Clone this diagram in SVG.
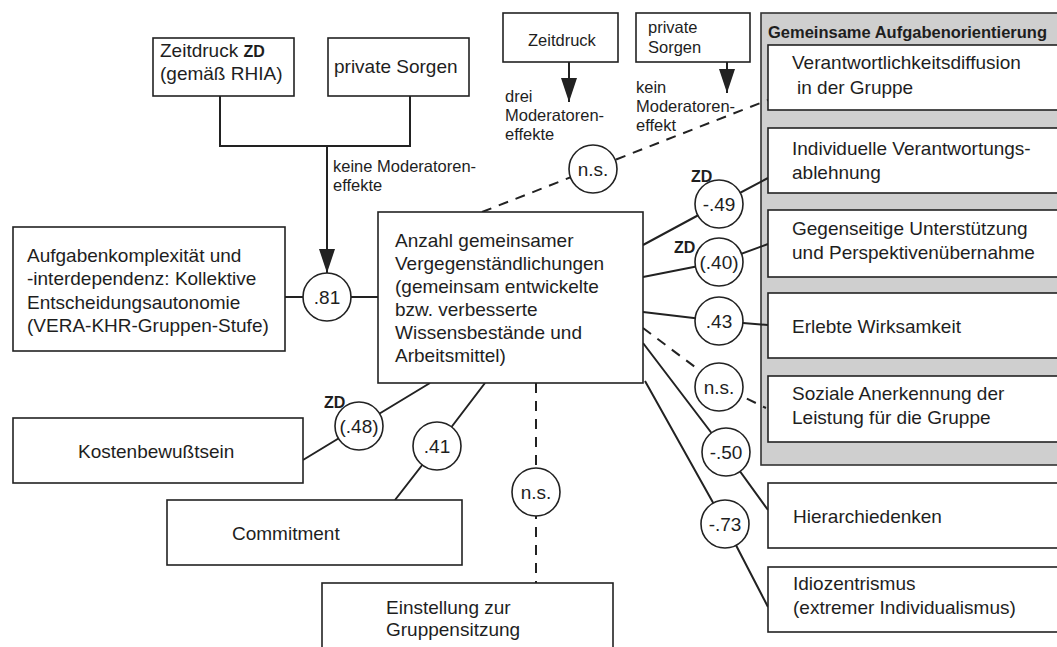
<svg xmlns="http://www.w3.org/2000/svg" width="1057" height="647" viewBox="0 0 1057 647">
<defs>
<style>
.t{font-family:"Liberation Sans",Arial,sans-serif;font-size:19px;fill:#1e1e1e}
.s{font-size:16.5px}
.b{font-weight:bold;font-size:16px}
.box{fill:#fff;stroke:#222;stroke-width:1.6}
.ln{stroke:#222;stroke-width:2;fill:none}
.dash{stroke-dasharray:10 8}
.c{fill:#fff;stroke:#222;stroke-width:1.6}
.panel{fill:#cfcfcf;stroke:#333;stroke-width:1.6}
</style>
<marker id="ah" markerUnits="userSpaceOnUse" viewBox="0 0 24 16" refX="24" refY="8" markerWidth="24" markerHeight="16" orient="auto">
<path d="M0,0 L24,8 L0,16 z" fill="#222"/>
</marker>
</defs>
<rect width="1057" height="647" fill="#fff"/>

<g id="panel-gemeinsame-aufgabenorientierung">
<rect class="panel" x="761" y="13" width="310" height="452"/>
<text class="t b" x="768" y="38" style="font-size:16.5px">Gemeinsame Aufgabenorientierung</text>
</g>

<g id="connectors">
<polyline class="ln" points="220,96 220,146 410,146 410,96"/>
<line class="ln" x1="327" y1="146" x2="327" y2="273" marker-end="url(#ah)"/>
<line class="ln" x1="569" y1="62" x2="569" y2="102" marker-end="url(#ah)"/>
<line class="ln" x1="727" y1="62" x2="727" y2="93" marker-end="url(#ah)"/>
<line class="ln" x1="285" y1="297" x2="378" y2="297"/>
<line class="ln dash" x1="482" y1="212" x2="768" y2="100"/>
<polyline class="ln" points="643,245 719,204 768,178"/>
<polyline class="ln" points="643,277 719,262 768,244"/>
<polyline class="ln" points="643,312 719,321 768,325"/>
<polyline class="ln dash" points="643,328 719,385 766,408"/>
<polyline class="ln" points="643,343 726,452 768,510"/>
<polyline class="ln" points="645,381 725,524 768,607"/>
<polyline class="ln" points="303,460 359,426 430,383"/>
<polyline class="ln" points="395,500 437,446 485,383"/>
<line class="ln dash" x1="536" y1="383" x2="536" y2="583"/>

<circle class="c" cx="327" cy="297" r="24"/><text class="t" x="327" y="304" text-anchor="middle">.81</text>
<circle class="c" cx="593" cy="169" r="24"/><text class="t" x="593" y="176" text-anchor="middle">n.s.</text>
<circle class="c" cx="719" cy="204" r="24"/><text class="t" x="719" y="211" text-anchor="middle">-.49</text>
<text class="t b" x="691" y="182">ZD</text>
<circle class="c" cx="719" cy="262" r="24"/><text class="t" x="719" y="269" text-anchor="middle">(.40)</text>
<text class="t b" x="674" y="253">ZD</text>
<circle class="c" cx="719" cy="321" r="24"/><text class="t" x="719" y="328" text-anchor="middle">.43</text>
<circle class="c" cx="719" cy="387" r="24"/><text class="t" x="719" y="394" text-anchor="middle">n.s.</text>
<circle class="c" cx="726" cy="452" r="24"/><text class="t" x="726" y="459" text-anchor="middle">-.50</text>
<circle class="c" cx="725" cy="524" r="24"/><text class="t" x="725" y="531" text-anchor="middle">-.73</text>
<circle class="c" cx="359" cy="426" r="24"/><text class="t" x="359" y="433" text-anchor="middle">(.48)</text>
<text class="t b" x="324" y="408">ZD</text>
<circle class="c" cx="437" cy="446" r="24"/><text class="t" x="437" y="453" text-anchor="middle">.41</text>
<circle class="c" cx="536" cy="492" r="24"/><text class="t" x="536" y="499" text-anchor="middle">n.s.</text>

<text class="t s" x="333" y="172">keine Moderatoren-</text>
<text class="t s" x="333" y="191">effekte</text>
<text class="t s" x="505" y="102">drei</text>
<text class="t s" x="505" y="121">Moderatoren-</text>
<text class="t s" x="505" y="140">effekte</text>
<text class="t s" x="636" y="93">kein</text>
<text class="t s" x="636" y="112">Moderatoren-</text>
<text class="t s" x="636" y="131">effekt</text>
</g>

<g id="zeitdruck-zd">
<rect class="box" x="153" y="38" width="141" height="58"/>
<text class="t" x="160" y="57">Zeitdruck <tspan class="b">ZD</tspan></text>
<text class="t" x="160" y="80">(gemäß RHIA)</text>
</g>
<g id="private-sorgen">
<rect class="box" x="328" y="38" width="141" height="58"/>
<text class="t" x="334" y="73">private Sorgen</text>
</g>
<g id="zeitdruck-2">
<rect class="box" x="503" y="13" width="115" height="49"/>
<text class="t s" x="528" y="46">Zeitdruck</text>
</g>
<g id="private-sorgen-2">
<rect class="box" x="636" y="13" width="114" height="49"/>
<text class="t s" x="648" y="33">private</text>
<text class="t s" x="648" y="53">Sorgen</text>
</g>
<g id="aufgabenkomplexitaet">
<rect class="box" x="13" y="227" width="272" height="124"/>
<text class="t" x="27" y="262">Aufgabenkomplexität und</text>
<text class="t" x="27" y="285">-interdependenz: Kollektive</text>
<text class="t" x="27" y="309">Entscheidungsautonomie</text>
<text class="t" x="27" y="332">(VERA-KHR-Gruppen-Stufe)</text>
</g>
<g id="anzahl-vergegenstaendlichungen">
<rect class="box" x="378" y="212" width="265" height="171"/>
<text class="t" x="395" y="247">Anzahl gemeinsamer</text>
<text class="t" x="395" y="270">Vergegenständlichungen</text>
<text class="t" x="395" y="293">(gemeinsam entwickelte</text>
<text class="t" x="395" y="316">bzw. verbesserte</text>
<text class="t" x="395" y="339">Wissensbestände und</text>
<text class="t" x="395" y="362">Arbeitsmittel)</text>
</g>
<g id="verantwortlichkeitsdiffusion">
<rect class="box" x="768" y="45" width="300" height="65"/>
<text class="t" x="792" y="69">Verantwortlichkeitsdiffusion</text>
<text class="t" x="797" y="94">in der Gruppe</text>
</g>
<g id="verantwortungsablehnung">
<rect class="box" x="768" y="128" width="300" height="65"/>
<text class="t" x="792" y="155">Individuelle Verantwortungs-</text>
<text class="t" x="792" y="179">ablehnung</text>
</g>
<g id="gegenseitige-unterstuetzung">
<rect class="box" x="768" y="210" width="300" height="67"/>
<text class="t" x="792" y="235">Gegenseitige Unterstützung</text>
<text class="t" x="792" y="259">und Perspektivenübernahme</text>
</g>
<g id="erlebte-wirksamkeit">
<rect class="box" x="768" y="293" width="300" height="65"/>
<text class="t" x="792" y="333">Erlebte Wirksamkeit</text>
</g>
<g id="soziale-anerkennung">
<rect class="box" x="768" y="376" width="300" height="66"/>
<text class="t" x="792" y="400">Soziale Anerkennung der</text>
<text class="t" x="792" y="424">Leistung für die Gruppe</text>
</g>
<g id="hierarchiedenken">
<rect class="box" x="768" y="483" width="300" height="65"/>
<text class="t" x="793" y="523">Hierarchiedenken</text>
</g>
<g id="idiozentrismus">
<rect class="box" x="768" y="567" width="300" height="65"/>
<text class="t" x="793" y="590">Idiozentrismus</text>
<text class="t" x="793" y="614">(extremer Individualismus)</text>
</g>
<g id="kostenbewusstsein">
<rect class="box" x="13" y="418" width="290" height="65"/>
<text class="t" x="78" y="458">Kostenbewußtsein</text>
</g>
<g id="commitment">
<rect class="box" x="167" y="500" width="295" height="65"/>
<text class="t" x="232" y="540">Commitment</text>
</g>
<g id="einstellung-gruppensitzung">
<rect class="box" x="322" y="583" width="291" height="80"/>
<text class="t" x="386" y="614">Einstellung zur</text>
<text class="t" x="386" y="636">Gruppensitzung</text>
</g>
</svg>
